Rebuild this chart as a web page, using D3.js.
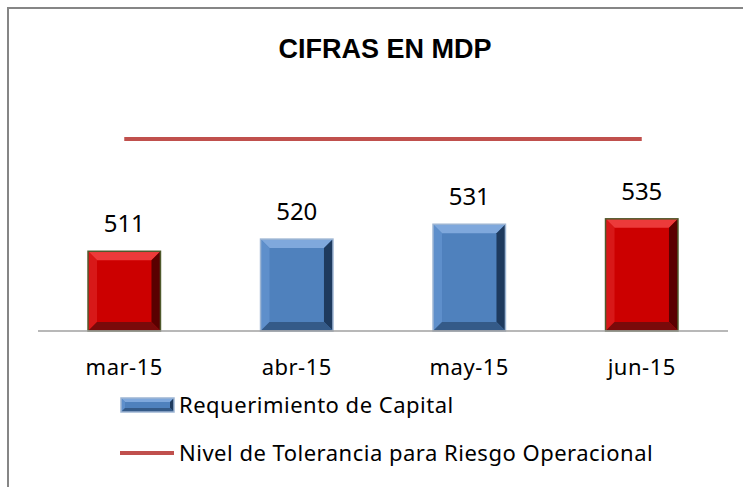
<!DOCTYPE html>
<html>
<head>
<meta charset="utf-8">
<script src="https://cdn.jsdelivr.net/npm/d3@7"></script>
<style>
  body { margin: 0; background: #fff; }
  svg { display: block; font-family: "Noto Sans", "Open Sans", sans-serif; }
</style>
</head>
<body>
<svg id="chart" width="743" height="487"></svg>
<script>
// Datos
const categories = ["mar-15", "abr-15", "may-15", "jun-15"];
const values = [511, 520, 531, 535];
const barColors = ["red", "blue", "blue", "red"];
const tolerance = 594;
const title = "CIFRAS EN MDP";
const legendLabels = ["Requerimiento de Capital", "Nivel de Tolerancia para Riesgo Operacional"];

const svg = d3.select("#chart");

// Paletas para el efecto biselado
const palettes = {
    red:  { face: "#cc0000", top: "#ec3a3a", left: "#d81818", right: "#5a0000", bottom: "#7a0a0a", stroke: "#4f5a2c" },
    blue: { face: "#4f81bd", top: "#7fa8dc", left: "#5e8fcb", right: "#1e3a5e", bottom: "#345a88", stroke: "#9db5d3" }
};

// Marco
svg.append("path")
    .attr("d", "M8,800 L8,8 L800,8")
    .attr("fill", "none")
    .attr("stroke", "#868686")
    .attr("stroke-width", 2);

// Título
svg.append("text")
    .attr("x", 385)
    .attr("y", 58)
    .attr("text-anchor", "middle")
    .style("font-family", "'Liberation Sans', Arial, sans-serif")
    .style("font-size", "27px")
    .style("font-weight", "bold")
    .attr("fill", "#000")
    .text(title);

// Escalas
const x = d3.scaleBand()
    .domain(categories)
    .range([38, 728])
    .paddingInner(0.58)
    .paddingOuter(0.29);

const y = d3.scaleLinear()
    .domain([452, 600])
    .range([331, 131]);

const data = categories.map((c, i) => ({ cat: c, value: values[i], color: barColors[i] }));

// Barras con bisel
function drawBevelBar(g, x0, y0, w, h, pal, b) {
    g.append("rect").attr("x", x0).attr("y", y0).attr("width", w).attr("height", h).attr("fill", pal.face);
    const x1 = x0 + w, y1 = y0 + h;
    const poly = (pts, fill) => g.append("polygon").attr("points", pts.map(p => p.join(",")).join(" ")).attr("fill", fill);
    poly([[x0, y0], [x1, y0], [x1 - b, y0 + b], [x0 + b, y0 + b]], pal.top);
    poly([[x0, y0], [x0 + b, y0 + b], [x0 + b, y1 - b], [x0, y1]], pal.left);
    poly([[x1, y0], [x1, y1], [x1 - b, y1 - b], [x1 - b, y0 + b]], pal.right);
    poly([[x0, y1], [x0 + b, y1 - b], [x1 - b, y1 - b], [x1, y1]], pal.bottom);
    g.append("rect").attr("x", x0).attr("y", y0).attr("width", w).attr("height", h)
        .attr("fill", "none").attr("stroke", pal.stroke).attr("stroke-width", 1.5);
}

const bars = svg.append("g");
data.forEach(d => {
    const g = bars.append("g");
    drawBevelBar(g, x(d.cat), y(d.value), x.bandwidth(), y(y.domain()[0]) - y(d.value), palettes[d.color], 9);
});

// Eje X
svg.append("line")
    .attr("x1", x.range()[0]).attr("x2", x.range()[1])
    .attr("y1", y(y.domain()[0])).attr("y2", y(y.domain()[0]))
    .attr("stroke", "#a0a0a0")
    .attr("stroke-width", 1.5);

svg.append("g").selectAll("text")
    .data(categories)
    .enter()
    .append("text")
        .attr("x", d => x(d) + x.bandwidth() / 2)
        .attr("y", 375)
        .attr("text-anchor", "middle")
        .style("font-size", "22px")
        .style("letter-spacing", "0.5px")
        .attr("fill", "#000")
        .text(d => d);

// Etiquetas de valor
svg.append("g").selectAll("text")
    .data(data)
    .enter()
    .append("text")
        .attr("x", d => x(d.cat) + x.bandwidth() / 2)
        .attr("y", d => y(d.value) - 19)
        .attr("text-anchor", "middle")
        .style("font-size", "24px")
        .attr("fill", "#000")
        .text(d => d.value);

// Línea de tolerancia
svg.append("line")
    .attr("x1", x(categories[0]) + x.bandwidth() / 2)
    .attr("x2", x(categories[categories.length - 1]) + x.bandwidth() / 2)
    .attr("y1", y(tolerance)).attr("y2", y(tolerance))
    .attr("stroke", "#c0504d")
    .attr("stroke-width", 4);

// Leyenda
const legend = svg.append("g");
drawBevelBar(legend.append("g"), 121, 398, 53, 14, palettes.blue, 4);
legend.append("text")
    .attr("x", 179).attr("y", 405)
    .attr("dy", "0.35em")
    .style("font-size", "22px")
    .style("letter-spacing", "0.5px")
    .attr("fill", "#000")
    .text(legendLabels[0]);

legend.append("line")
    .attr("x1", 120).attr("x2", 174)
    .attr("y1", 453).attr("y2", 453)
    .attr("stroke", "#c0504d")
    .attr("stroke-width", 4);
legend.append("text")
    .attr("x", 179).attr("y", 453)
    .attr("dy", "0.35em")
    .style("font-size", "22px")
    .style("letter-spacing", "0.5px")
    .attr("fill", "#000")
    .text(legendLabels[1]);
</script>
</body>
</html>
